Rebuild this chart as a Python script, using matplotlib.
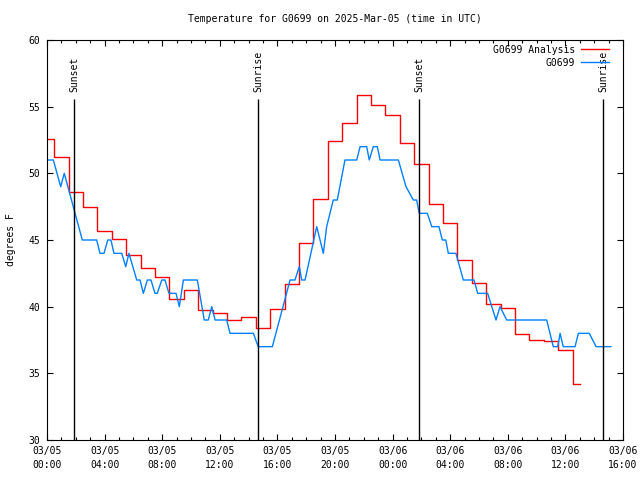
import matplotlib
matplotlib.use('Agg')
import matplotlib.pyplot as plt
from matplotlib.ticker import MultipleLocator

plt.rcParams['font.family'] = 'DejaVu Sans Mono'
plt.rcParams['font.size'] = 7

# Hours since 2025-03-05 00:00 UTC
x_ticks = list(range(0, 41, 4))
x_labels = ['03/05\n00:00', '03/05\n04:00', '03/05\n08:00', '03/05\n12:00',
            '03/05\n16:00', '03/05\n20:00', '03/06\n00:00', '03/06\n04:00',
            '03/06\n08:00', '03/06\n12:00', '03/06\n16:00']

# Analysis, hourly values (hours 0..37)
analysis_hours = list(range(38))
analysis_temp = [52.6, 51.2, 48.6, 47.5, 45.65, 45.1, 43.9, 42.9, 42.2, 40.6,
                 41.25, 39.75, 39.5, 39.0, 39.2, 38.4, 39.8, 41.7, 44.75, 48.1,
                 52.4, 53.75, 55.9, 55.1, 54.4, 52.25, 50.7, 47.7, 46.3, 43.5,
                 41.75, 40.2, 39.9, 37.95, 37.5, 37.45, 36.75, 34.2]

# Station observations
obs_hours = [0.00, 0.44, 0.95, 1.20, 2.45, 3.45, 3.68, 3.96, 4.22, 4.44,
             4.65, 5.19, 5.47, 5.69, 6.23, 6.46, 6.69, 6.97, 7.22, 7.50,
             7.66, 7.97, 8.19, 8.47, 8.96, 9.19, 9.47, 10.44, 10.92, 11.20,
             11.44, 11.67, 12.48, 12.71, 14.33, 14.67, 15.65, 16.88, 17.22, 17.52,
             17.69, 17.92, 18.73, 19.19, 19.42, 19.88, 20.16, 20.69, 21.51, 21.74,
             22.20, 22.38, 22.66, 22.94, 23.13, 24.40, 24.93, 25.44, 25.67, 25.85,
             26.41, 26.72, 27.22, 27.45, 27.69, 27.87, 28.40, 28.91, 29.65, 29.91,
             30.60, 31.18, 31.46, 31.92, 34.70, 35.16, 35.47, 35.63, 35.85, 36.67,
             36.90, 37.66, 38.13, 39.15]
obs_temp = [51, 51, 49, 50, 45, 45, 44, 44, 45, 45,
            44, 44, 43, 44, 42, 42, 41, 42, 42, 41,
            41, 42, 42, 41, 41, 40, 42, 42, 39, 39,
            40, 39, 39, 38, 38, 37, 37, 42, 42, 43,
            42, 42, 46, 44, 46, 48, 48, 51, 51, 52,
            52, 51, 52, 52, 51, 51, 49, 48, 48, 47,
            47, 46, 46, 45, 45, 44, 44, 42, 42, 41,
            41, 39, 40, 39, 39, 37, 37, 38, 37, 37,
            38, 38, 37, 37]

sun_hours = [1.875, 14.65, 25.83, 38.61]
sun_labels = ['Sunset', 'Sunrise', 'Sunset', 'Sunrise']

fig = plt.figure(figsize=(6.4, 4.8), dpi=100)
ax = fig.add_axes([47 / 640, 40 / 480, 576 / 640, 400 / 480])

ax.plot(analysis_hours, analysis_temp, color='#ff0000', linewidth=1.0,
        drawstyle='steps-mid', label='G0699 Analysis')
ax.plot(obs_hours, obs_temp, color='#0080ff', linewidth=1.0, label='G0699')

# sunrise / sunset markers
ax.vlines(sun_hours, 30, 55.6, color='black', linewidth=1.0)
for h, lab in zip(sun_hours, sun_labels):
    ax.text(h, 56.1, lab, rotation=90, ha='center', va='bottom', fontsize=7)

ax.set_xlim(0, 40)
ax.set_ylim(30, 60)
ax.set_xticks(x_ticks)
ax.set_xticklabels(x_labels)
ax.xaxis.set_minor_locator(MultipleLocator(1))
ax.set_yticks(range(30, 61, 5))
for lbl in ax.get_xticklabels():
    lbl.set_linespacing(1.5)

ax.tick_params(which='both', direction='in', top=True, right=True, width=0.8)
ax.tick_params(which='major', length=4.5)
ax.tick_params(which='minor', length=2.5)
ax.tick_params(axis='x', pad=4)
ax.tick_params(axis='y', pad=5)
for s in ax.spines.values():
    s.set_linewidth(0.8)

ax.set_ylabel('degrees F', labelpad=9)
ax.set_title('Temperature for G0699 on 2025-Mar-05 (time in UTC)', fontsize=7, pad=13)

ax.legend(loc='upper right', bbox_to_anchor=(1 - 10 / 576, 1 - 1 / 400),
          frameon=False, markerfirst=False, handlelength=2.9,
          handletextpad=0.6, labelspacing=0.3, borderaxespad=0, fontsize=7)

fig.savefig('out.png', dpi=100)
